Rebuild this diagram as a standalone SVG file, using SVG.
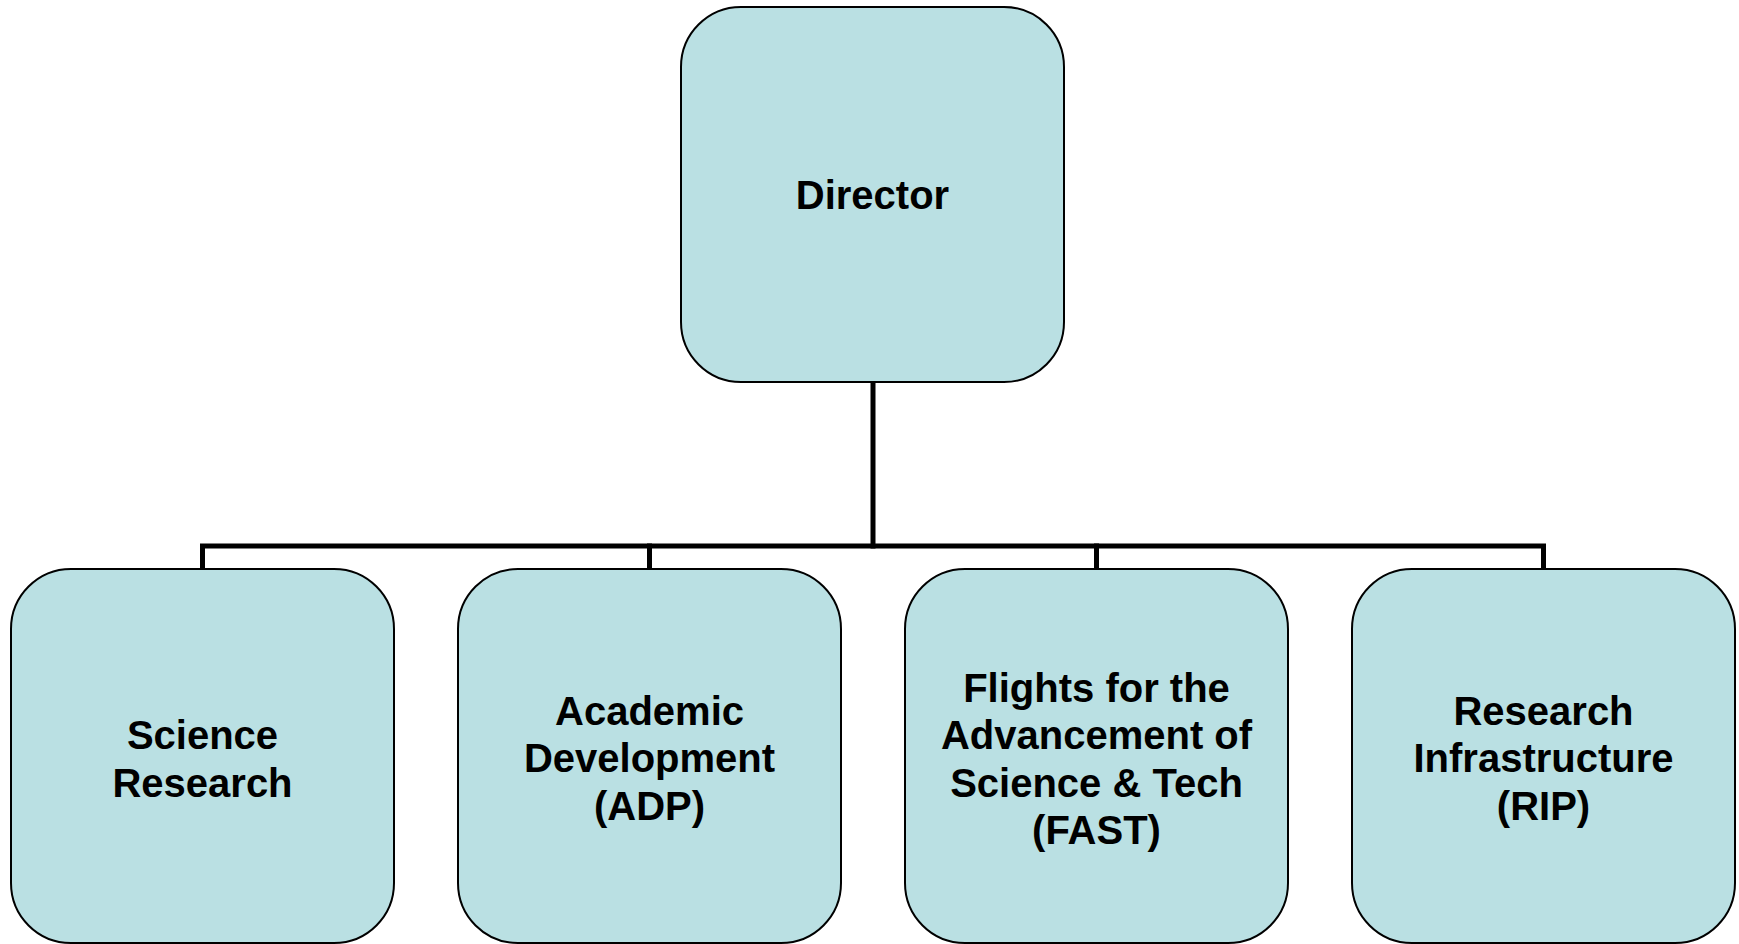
<svg xmlns="http://www.w3.org/2000/svg" width="1739" height="944" viewBox="0 0 1739 944">
<style>
.box{fill:#BAE0E3;stroke:#000;stroke-width:2}
.lbl{font-family:"Liberation Sans",Arial,sans-serif;font-weight:bold;font-size:40px;fill:#000;text-anchor:middle}
.conn{fill:none;stroke:#000;stroke-width:5;stroke-linecap:square}
</style>
<rect width="1739" height="944" fill="#fff"/>
<g id="connectors">
<path class="conn" d="M873 383 V546"/>
<path class="conn" d="M202.5 568 V546 H1543.5 V568"/>
<path class="conn" d="M649.5 546 V568"/>
<path class="conn" d="M1096.5 546 V568"/>
</g>
<g id="director">
<rect class="box" x="681" y="7" width="383" height="375" rx="60" ry="60"/>
<text class="lbl" x="872.5" y="209">Director</text>
</g>
<g id="science-research">
<rect class="box" x="11" y="569" width="383" height="374" rx="60" ry="60"/>
<text class="lbl" x="202.5" y="749">Science</text>
<text class="lbl" x="202.5" y="797">Research</text>
</g>
<g id="academic-development">
<rect class="box" x="458" y="569" width="383" height="374" rx="60" ry="60"/>
<text class="lbl" x="649.5" y="725">Academic</text>
<text class="lbl" x="649.5" y="772">Development</text>
<text class="lbl" x="649.5" y="820">(ADP)</text>
</g>
<g id="fast">
<rect class="box" x="905" y="569" width="383" height="374" rx="60" ry="60"/>
<text class="lbl" x="1096.5" y="702">Flights for the</text>
<text class="lbl" x="1096.5" y="749">Advancement of</text>
<text class="lbl" x="1096.5" y="797">Science &amp; Tech</text>
<text class="lbl" x="1096.5" y="844">(FAST)</text>
</g>
<g id="research-infrastructure">
<rect class="box" x="1352" y="569" width="383" height="374" rx="60" ry="60"/>
<text class="lbl" x="1543.5" y="725">Research</text>
<text class="lbl" x="1543.5" y="772">Infrastructure</text>
<text class="lbl" x="1543.5" y="820">(RIP)</text>
</g>
</svg>
